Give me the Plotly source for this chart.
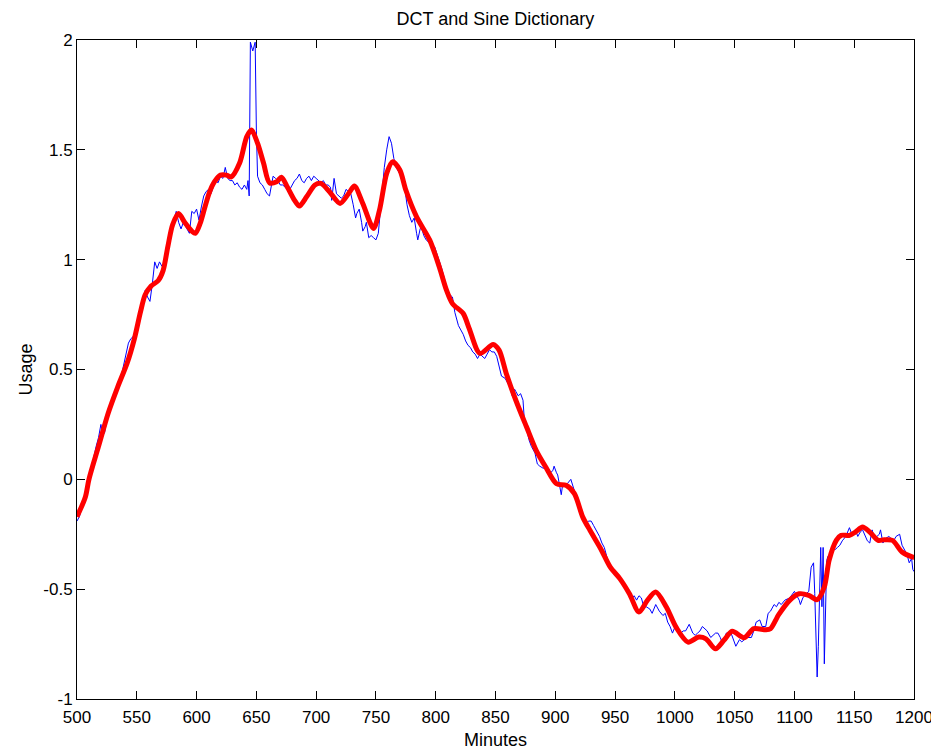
import plotly.graph_objects as go

# measured usage (blue, noisy)
blue_min = [500, 502, 504, 506, 508, 510, 512, 514, 516, 518, 520, 521, 523, 525, 527, 529, 531, 533, 535, 537,
            539, 541, 543, 545, 547, 549, 551, 553, 555, 557, 559, 561, 563, 565, 567, 569, 571, 573, 575, 577,
            579, 581, 583, 585, 587, 589, 591, 593, 594, 596, 598, 600, 602, 604, 606, 608, 610, 612, 614, 616,
            618, 620, 622, 624, 626, 628, 630, 632, 634, 636, 638, 640, 642, 643, 644, 645, 647, 649, 650, 651,
            653, 655, 657, 659, 661, 663, 664, 666, 668, 670, 672, 674, 676, 678, 680, 682, 684, 686, 688, 690,
            692, 694, 696, 698, 700, 702, 704, 706, 708, 710, 712, 713, 715, 717, 719, 721, 723, 725, 727, 729,
            731, 733, 734, 736, 738, 739, 741, 742, 744, 746, 748, 750, 752, 753, 755, 757, 759, 761, 763, 765,
            767, 770, 772, 774, 776, 778, 780, 782, 784, 785, 787, 788, 790, 792, 794, 796, 799, 801, 803, 805,
            807, 809, 810, 812, 814, 816, 817, 819, 821, 823, 825, 827, 829, 831, 833, 835, 837, 839, 841, 843,
            845, 847, 849, 851, 852, 855, 858, 860, 862, 864, 866, 867, 869, 871, 873, 874, 876, 878, 880, 883,
            885, 887, 890, 892, 894, 896, 898, 899, 901, 902, 905, 906, 908, 910, 913, 916, 919, 921, 923, 926,
            928, 930, 932, 934, 937, 939, 941, 943, 945, 947, 949, 951, 954, 956, 958, 960, 962, 964, 966, 968,
            970, 972, 974, 976, 979, 981, 984, 987, 990, 992, 994, 996, 998, 1001, 1003, 1005, 1007, 1009, 1012, 1015,
            1017, 1019, 1021, 1023, 1025, 1027, 1030, 1032, 1034, 1036, 1038, 1040, 1043, 1047, 1049, 1051, 1054, 1056, 1058, 1060,
            1062, 1064, 1066, 1068, 1071, 1073, 1076, 1078, 1080, 1083, 1085, 1087, 1089, 1092, 1096, 1100, 1102, 1104, 1105, 1107,
            1110, 1112, 1114, 1116, 1117, 1118, 1119, 1120, 1121, 1122, 1123, 1124, 1125, 1126, 1127, 1128, 1130, 1132, 1134, 1136,
            1138, 1140, 1143, 1146, 1148, 1150, 1151, 1153, 1155, 1157, 1159, 1161, 1163, 1165, 1167, 1169, 1171, 1172, 1174, 1176,
            1179, 1181, 1183, 1185, 1188, 1190, 1192, 1194, 1196, 1198, 1199, 1200]
blue_val = [-0.19, -0.17, -0.13, -0.10, -0.05, 0.00, 0.06, 0.10, 0.15, 0.19, 0.25, 0.22, 0.21, 0.27, 0.30, 0.34, 0.37, 0.40, 0.43, 0.47,
            0.52, 0.58, 0.62, 0.64, 0.65, 0.68, 0.73, 0.77, 0.80, 0.86, 0.83, 0.81, 0.89, 0.99, 0.96, 0.99, 0.97, 0.98, 1.04, 1.08,
            1.12, 1.18, 1.22, 1.17, 1.14, 1.17, 1.15, 1.13, 1.12, 1.22, 1.21, 1.23, 1.18, 1.24, 1.29, 1.31, 1.32, 1.30, 1.33, 1.36,
            1.35, 1.38, 1.37, 1.42, 1.37, 1.36, 1.36, 1.34, 1.35, 1.33, 1.32, 1.34, 1.32, 1.36, 1.29, 1.99, 1.95, 1.99, 1.59, 1.38,
            1.35, 1.34, 1.32, 1.30, 1.29, 1.35, 1.38, 1.37, 1.36, 1.34, 1.34, 1.33, 1.32, 1.32, 1.34, 1.36, 1.37, 1.39, 1.36, 1.35,
            1.37, 1.38, 1.36, 1.38, 1.37, 1.36, 1.35, 1.36, 1.34, 1.34, 1.33, 1.27, 1.37, 1.30, 1.29, 1.28, 1.29, 1.32, 1.31, 1.30,
            1.25, 1.19, 1.21, 1.23, 1.17, 1.13, 1.15, 1.17, 1.10, 1.11, 1.10, 1.09, 1.12, 1.18, 1.32, 1.42, 1.50, 1.56, 1.53, 1.46,
            1.42, 1.39, 1.36, 1.33, 1.25, 1.20, 1.17, 1.19, 1.12, 1.09, 1.14, 1.15, 1.11, 1.09, 1.08, 1.07, 1.06, 1.03, 1.00, 0.96,
            0.92, 0.87, 0.85, 0.84, 0.83, 0.76, 0.74, 0.70, 0.68, 0.66, 0.63, 0.61, 0.60, 0.58, 0.57, 0.55, 0.57, 0.56, 0.55, 0.57,
            0.59, 0.58, 0.58, 0.56, 0.54, 0.47, 0.46, 0.44, 0.42, 0.38, 0.41, 0.40, 0.38, 0.39, 0.36, 0.28, 0.23, 0.18, 0.15, 0.12,
            0.07, 0.06, 0.05, 0.06, 0.05, 0.03, 0.04, 0.06, 0.03, 0.02, -0.07, -0.03, -0.02, -0.02, 0.00, -0.05, -0.11, -0.14, -0.16, -0.20,
            -0.19, -0.19, -0.21, -0.23, -0.26, -0.29, -0.31, -0.35, -0.38, -0.41, -0.43, -0.44, -0.46, -0.47, -0.49, -0.51, -0.53, -0.54, -0.53, -0.55,
            -0.53, -0.54, -0.58, -0.58, -0.59, -0.61, -0.57, -0.60, -0.62, -0.61, -0.65, -0.67, -0.70, -0.66, -0.69, -0.70, -0.69, -0.69, -0.66, -0.70,
            -0.71, -0.70, -0.69, -0.67, -0.68, -0.69, -0.72, -0.71, -0.70, -0.70, -0.72, -0.75, -0.70, -0.70, -0.73, -0.76, -0.73, -0.74, -0.73, -0.72,
            -0.72, -0.72, -0.69, -0.65, -0.64, -0.67, -0.67, -0.61, -0.60, -0.57, -0.58, -0.56, -0.57, -0.55, -0.54, -0.51, -0.53, -0.55, -0.57, -0.54,
            -0.52, -0.51, -0.40, -0.38, -0.52, -0.75, -0.90, -0.76, -0.58, -0.31, -0.58, -0.31, -0.84, -0.60, -0.37, -0.35, -0.35, -0.32, -0.32, -0.31,
            -0.30, -0.28, -0.26, -0.22, -0.25, -0.24, -0.23, -0.26, -0.24, -0.23, -0.26, -0.28, -0.29, -0.23, -0.27, -0.26, -0.25, -0.23, -0.29, -0.27,
            -0.26, -0.27, -0.28, -0.26, -0.25, -0.30, -0.32, -0.34, -0.38, -0.36, -0.41, -0.42]

# DCT + sine dictionary fit (red, smooth)
red_min = [500, 507, 510, 518, 526, 534, 542, 548, 553, 557, 562, 568, 572, 576, 580, 585, 590, 596, 599, 603,
           607, 611, 615, 620, 625, 629, 636, 642, 646, 651, 656, 661, 667, 671, 676, 682, 686, 692, 699, 704,
           711, 720, 727, 732, 739, 748, 753, 759, 764, 770, 775, 784, 795, 803, 809, 814, 823, 828, 837, 848,
           853, 859, 867, 876, 884, 892, 901, 909, 916, 923, 929, 938, 946, 954, 962, 970, 977, 984, 993, 1001,
           1011, 1020, 1026, 1034, 1041, 1048, 1058, 1066, 1076, 1080, 1087, 1096, 1104, 1112, 1119, 1125, 1129, 1135, 1139, 1146,
           1151, 1157, 1163, 1170, 1175, 1182, 1190, 1199, 1200]
red_val = [-0.17, -0.08, 0.0, 0.15, 0.30, 0.42, 0.53, 0.64, 0.76, 0.84, 0.88, 0.905, 0.95, 1.06, 1.16, 1.21, 1.17, 1.13, 1.12, 1.165,
           1.24, 1.31, 1.355, 1.385, 1.385, 1.377, 1.44, 1.56, 1.59, 1.53, 1.44, 1.35, 1.355, 1.375, 1.33, 1.27, 1.244, 1.286, 1.34, 1.347,
           1.31, 1.256, 1.30, 1.335, 1.256, 1.142, 1.226, 1.393, 1.446, 1.408, 1.317, 1.195, 1.089, 0.967, 0.861, 0.80, 0.755, 0.687, 0.573, 0.614,
           0.588, 0.482, 0.36, 0.238, 0.132, 0.056, -0.02, -0.027, -0.065, -0.172, -0.232, -0.316, -0.40, -0.452, -0.521, -0.604, -0.551, -0.513, -0.582, -0.673,
           -0.741, -0.718, -0.726, -0.771, -0.733, -0.692, -0.721, -0.680, -0.685, -0.68, -0.615, -0.551, -0.521, -0.528, -0.548, -0.49, -0.369, -0.278, -0.255, -0.255,
           -0.24, -0.217, -0.24, -0.278, -0.275, -0.278, -0.331, -0.354, -0.355]

x_ticks = [500, 550, 600, 650, 700, 750, 800, 850, 900, 950, 1000, 1050, 1100, 1150, 1200]
y_ticks = [-1, -0.5, 0, 0.5, 1, 1.5, 2]
y_labels = ["-1", "-0.5", "0", "0.5", "1", "1.5", "2"]

fig = go.Figure()
fig.add_trace(go.Scatter(x=blue_min, y=blue_val, mode="lines",
                         line=dict(color="#0000ff", width=1)))
fig.add_trace(go.Scatter(x=red_min, y=red_val, mode="lines",
                         line=dict(color="#ff0000", width=5, shape="spline", smoothing=0.8)))

axis_style = dict(showline=True, linecolor="black", linewidth=1, mirror="ticks",
                  ticks="inside", ticklen=8, tickcolor="black", showgrid=False, zeroline=False,
                  automargin=False, tickfont=dict(size=17, color="black"))

# the page body adds an 8px offset, so the figure is a bit smaller than the window
fig.update_layout(
    width=931, height=742,
    margin=dict(l=69, r=25, t=32, b=51),
    paper_bgcolor="white", plot_bgcolor="white",
    font=dict(family="Liberation Sans, Arial, sans-serif", color="black"),
    showlegend=False,
    title=dict(text="DCT and Sine Dictionary", x=0.5236, xanchor="center",
               y=0.985, yanchor="middle", yref="container", font=dict(size=18)),
)
fig.update_xaxes(range=[500, 1200], tickvals=x_ticks, ticklabelstandoff=3,
                 title=dict(text="Minutes", font=dict(size=18), standoff=8), **axis_style)
fig.update_yaxes(range=[-1, 2], tickvals=y_ticks, ticktext=y_labels,
                 title=dict(text="Usage", font=dict(size=18), standoff=6), **axis_style)

fig.write_html("out.html")
